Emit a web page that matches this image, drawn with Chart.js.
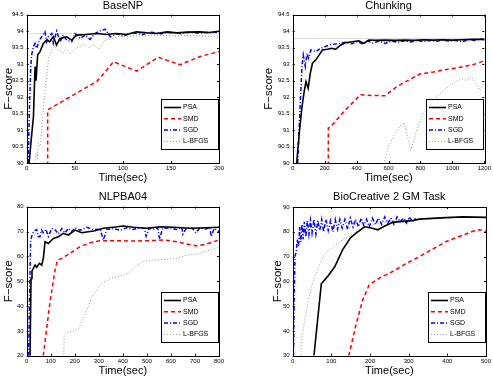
<!DOCTYPE html>
<html>
<head>
<meta charset="utf-8">
<script src="https://cdn.jsdelivr.net/npm/chart.js@4.4.1/dist/chart.umd.min.js"></script>
<style>
  body { margin: 0; background: #fff; }
  .panel { position: absolute; }
  canvas { display: block; }
</style>
</head>
<body>
<div class="panel" style="left:0;top:0"><canvas id="c1" width="246" height="190"></canvas></div>
<div class="panel" style="left:246px;top:0"><canvas id="c2" width="247" height="190"></canvas></div>
<div class="panel" style="left:0;top:190px"><canvas id="c3" width="246" height="190"></canvas></div>
<div class="panel" style="left:246px;top:190px"><canvas id="c4" width="247" height="190"></canvas></div>
<script>
const methods = ['PSA', 'SMD', 'SGD', 'L-BFGS'];

// BaseNP
const baseXTicks = [0, 50, 100, 150, 200];
const baseYTicks = [90, 90.5, 91, 91.5, 92, 92.5, 93, 93.5, 94, 94.5];
const basePsaT = [2.5, 5, 7, 8.7, 9.7, 11.4, 13.9, 17.3, 20.8, 24, 27.7, 31, 34.7, 41.6, 46.8, 52, 62, 73, 83, 93, 104, 114, 125, 135, 146, 156, 167, 180, 190, 200];
const basePsa = [90, 90.8, 91.4, 92.93, 92.5, 93.28, 93.38, 93.63, 93.73, 93.68, 93.83, 93.58, 93.78, 93.83, 93.73, 93.88, 93.9, 93.93, 93.9, 93.93, 93.9, 93.98, 93.95, 93.93, 93.98, 93.95, 93.97, 93.98, 93.96, 94.0];
const baseSmdT = [21.8, 21.8, 41.6, 58.9, 72.8, 83.2, 90.1, 114.4, 136.9, 159.4, 180.2, 200];
const baseSmd = [89.5, 91.61, 91.95, 92.24, 92.47, 92.82, 93.07, 92.79, 93.21, 92.98, 93.23, 93.38];
const baseSgdT = [1.5, 3, 4.2, 5.2, 6.9, 8.7, 10.4, 13.2, 15.6, 19, 20.8, 22.5, 26, 27.7, 31.2, 34.7, 38, 41.6, 46.8, 50.3, 55.5, 60.7, 65.9, 71, 76, 81.5, 87, 94, 100, 110, 120, 130, 140, 150, 160, 170, 180, 190, 200];
const baseSgd = [90, 91.8, 92.9, 93.28, 93.53, 93.63, 93.48, 93.73, 93.83, 93.98, 93.68, 93.83, 93.93, 93.63, 94.0, 93.68, 93.88, 93.73, 93.68, 93.93, 93.78, 93.88, 93.75, 93.93, 94.0, 94.06, 93.83, 93.92, 93.85, 93.95, 93.9, 93.97, 93.92, 93.96, 93.93, 93.97, 93.94, 93.96, 93.97];
const baseLbfgsT = [8, 10, 11, 12, 14, 17, 19, 21, 23, 26, 29, 32, 35, 38, 41, 45, 50, 55, 60, 65, 70, 75, 80, 85, 95, 110, 130, 150, 170, 185, 200];
const baseLbfgs = [89.9, 90.3, 90.1, 90.6, 90.5, 91.5, 92.2, 92.7, 93.2, 93.4, 93.55, 93.45, 93.4, 93.35, 93.5, 93.3, 93.45, 93.55, 93.6, 93.5, 93.6, 93.45, 93.7, 93.75, 93.83, 93.85, 93.88, 93.86, 93.87, 93.85, 93.82];
const baseRef = 93.93;

// Chunking
const chunkXTicks = [0, 200, 400, 600, 800, 1000, 1200];
const chunkYTicks = [90, 90.5, 91, 91.5, 92, 92.5, 93, 93.5, 94, 94.5];
const chunkPsaT = [25, 41, 58, 72, 83, 97, 110, 124, 145, 166, 186, 217, 245, 269, 300, 331, 372, 414, 445, 476, 520, 580, 640, 700, 760, 820, 880, 940, 1000, 1060, 1120, 1200];
const chunkPsa = [90, 90.9, 91.7, 92.17, 92.47, 92.27, 92.72, 93.03, 93.13, 93.28, 93.43, 93.45, 93.48, 93.45, 93.58, 93.65, 93.68, 93.71, 93.63, 93.73, 93.72, 93.73, 93.72, 93.73, 93.72, 93.74, 93.73, 93.74, 93.73, 93.74, 93.75, 93.75];
const chunkSmdT = [223, 223, 238, 331, 424, 500, 579, 652, 720, 797, 880, 952, 1020, 1076, 1140, 1200];
const chunkSmd = [89.5, 91.06, 91.1, 91.61, 92.07, 92.05, 92.04, 92.32, 92.5, 92.7, 92.76, 92.83, 92.88, 92.93, 93.0, 93.1];
const chunkSgdT = [31, 40, 48, 58, 66, 79, 89, 99, 114, 145, 176, 228, 290, 330, 370, 410, 440, 470, 500, 540, 580, 620, 660, 700, 740, 780, 820, 860, 900, 940, 980, 1020, 1060, 1100, 1140, 1180, 1200];
const chunkSgd = [90, 91.0, 91.9, 92.93, 93.28, 92.93, 93.33, 93.18, 93.43, 93.38, 93.48, 93.58, 93.63, 93.66, 93.62, 93.68, 93.6, 93.7, 93.64, 93.69, 93.63, 93.7, 93.66, 93.71, 93.67, 93.72, 93.68, 93.72, 93.69, 93.73, 93.7, 93.72, 93.68, 93.74, 93.72, 93.76, 93.74];
const chunkLbfgsT = [560, 600, 635, 670, 697, 739, 780, 821, 870, 920, 987, 1049, 1090, 1121, 1150, 1173, 1200];
const chunkLbfgs = [89.8, 90.5, 90.84, 91.1, 91.24, 90.39, 91.04, 91.55, 91.8, 92.1, 92.36, 92.56, 92.5, 92.61, 92.4, 92.2, 92.45];
const chunkRef = 93.78;

// NLPBA04
const nlpXTicks = [0, 100, 200, 300, 400, 500, 600, 700, 800];
const nlpYTicks = [20, 30, 40, 50, 60, 70, 80];
const nlpPsaT = [14, 18, 22, 27.7, 34.7, 41.6, 52.7, 62.4, 69.3, 76.3, 90, 97, 111, 132, 152.5, 173, 201, 229, 256, 284, 319, 360, 402, 444, 499, 555, 610, 679, 749, 800];
const nlpPsa = [20, 51.1, 54, 55.2, 56.5, 55.6, 57.2, 56.5, 59.2, 65.9, 65.2, 65.9, 67.2, 67.9, 69.3, 68.6, 70.6, 69.5, 69.9, 70.3, 71.3, 71.7, 72.2, 71.7, 71.3, 71.9, 71.7, 71.3, 71.5, 71.7];
const nlpSmdT = [69, 97, 118, 128, 146, 180, 222, 263, 305, 374, 444, 513, 568, 624, 666, 707, 749, 800];
const nlpSmd = [20, 41.7, 54.5, 58.5, 59.2, 61.2, 63.9, 65.5, 66.3, 66.3, 66.2, 66.3, 66.6, 65.9, 65, 64.2, 65, 66.6];
const nlpSgdT = [8, 12, 16.6, 22, 27.7, 35, 41.6, 48, 55, 62, 69, 80, 90, 104, 118, 132, 146, 160, 173, 187, 201, 222, 250, 277, 305, 319, 333, 360, 388, 416, 444, 472, 490, 497, 510, 530, 545, 553, 565, 596, 624, 645, 650, 665, 690, 704, 720, 745, 762, 768, 780, 800];
const nlpSgd = [20, 45, 66.6, 68.5, 69.9, 70.5, 70.8, 68, 67.9, 70.6, 69.5, 70.9, 68, 71.2, 70.7, 69.1, 71.2, 69.5, 71.3, 70, 71.5, 70.5, 71.7, 70.8, 71, 66.6, 70.8, 71.2, 70.5, 71.5, 70.8, 71.6, 71.2, 68.1, 71.3, 71, 71.5, 66.8, 71.3, 71.5, 70.8, 71.6, 69, 71.5, 71.2, 69.5, 71.4, 71, 71.5, 68, 71.2, 70];
const nlpLbfgsT = [154, 156, 165, 181, 200, 216, 244, 272, 313, 354, 402, 430, 458, 485, 527, 582, 624, 666, 721, 763, 800];
const nlpLbfgs = [18, 28.5, 29.3, 29.8, 30, 31, 36.8, 43.9, 49.3, 51.3, 52.5, 53.8, 56.5, 57.9, 58.5, 58.8, 59.2, 60.5, 61.2, 62.6, 63.6];

// BioCreative 2 GM Task
const bioXTicks = [0, 100, 200, 300, 400, 500];
const bioYTicks = [30, 40, 50, 60, 70, 80, 90];
const bioPsaT = [55, 74, 90.5, 109, 129, 149, 164, 186, 203, 220, 237, 259, 284, 310, 328, 362, 397, 440, 470, 500];
const bioPsa = [30, 59, 62, 66, 72.7, 77.5, 79.5, 82, 81.5, 80.8, 82.2, 83.8, 84.2, 84.5, 85.1, 85.4, 85.7, 86, 85.9, 85.8];
const bioSmdT = [145, 163, 181, 198, 224, 259, 293, 328, 362, 397, 431, 466, 483, 500];
const bioSmd = [30, 42, 52.5, 58.6, 61.3, 64, 67.1, 70, 73, 76.1, 78.1, 80.2, 80.8, 80.2];
const bioSgdT = [2, 4, 6, 9, 12, 15, 18, 21, 24, 27, 30, 34, 38, 42, 46, 50, 55, 60, 65, 70, 75, 80, 86, 92, 98, 104, 110, 116, 122, 128, 135, 142, 149, 156, 163, 170, 177, 184, 191, 198, 206, 214, 222, 230, 238, 246, 254, 262, 270, 278, 286, 294, 302, 310, 318];
const bioSgd = [30, 55, 70, 72, 77, 74, 82, 76, 83, 77, 84, 78, 84.5, 79, 84.5, 79.5, 85, 79, 84.5, 80.5, 85, 80, 85, 80.5, 84.5, 80, 85, 81, 85, 81.5, 85, 81, 85.5, 82, 85, 82, 85.5, 82.5, 85, 82, 85.5, 83, 85.5, 83, 86, 83.5, 85.5, 83, 86, 84, 85.5, 83.5, 86, 84, 85.5];
const bioLbfgsT = [21.6, 22, 30, 39, 47, 56, 65, 73, 86, 99, 112, 129, 147, 164, 190, 224, 267, 310, 362, 414, 500];
const bioLbfgs = [29, 35.7, 43, 51.2, 56.6, 62, 64.7, 68, 72, 73, 74.8, 76.8, 78.1, 80.2, 82.2, 83.5, 84.6, 85.1, 85.6, 85.7, 85.7];

Chart.defaults.font.family = "'Liberation Sans', Arial, sans-serif";
Chart.defaults.color = '#000';

const lineStyles = [
  { borderColor: '#000000', borderWidth: 1.6, borderDash: [] },
  { borderColor: '#ff0000', borderWidth: 1.5, borderDash: [4, 3] },
  { borderColor: '#0000ff', borderWidth: 1.5, borderDash: [4, 2, 1, 2] },
  { borderColor: '#999999', borderWidth: 1, borderDash: [1, 2] }
];

function pts(xs, ys) {
  return xs.map((x, i) => ({ x: x, y: ys[i] }));
}

// box, inward ticks and legend, MATLAB style
const boxPlugin = {
  id: 'box',
  afterDatasetsDraw(chart) {
    const { ctx, chartArea: { left, right, top, bottom }, scales: { x, y } } = chart;
    ctx.save();
    ctx.strokeStyle = '#000';
    ctx.lineWidth = 1;
    ctx.beginPath();
    x.ticks.forEach(t => {
      const px = Math.round(x.getPixelForValue(t.value)) + 0.5;
      ctx.moveTo(px, bottom); ctx.lineTo(px, bottom - 2);
      ctx.moveTo(px, top); ctx.lineTo(px, top + 2);
    });
    y.ticks.forEach(t => {
      const py = Math.round(y.getPixelForValue(t.value)) + 0.5;
      ctx.moveTo(left, py); ctx.lineTo(left + 2, py);
      ctx.moveTo(right, py); ctx.lineTo(right - 2, py);
    });
    ctx.stroke();
    ctx.strokeRect(Math.round(left) + 0.5, Math.round(top) + 0.5, Math.round(right - left), Math.round(bottom - top));

    // legend
    const bw = 57, bh = 50;
    const bx = Math.round(right - 58), by = Math.round(bottom - 64);
    ctx.fillStyle = '#fff';
    ctx.fillRect(bx, by, bw, bh);
    ctx.strokeRect(bx + 0.5, by + 0.5, bw, bh);
    ctx.font = "7px 'Liberation Sans', Arial, sans-serif";
    ctx.textBaseline = 'middle';
    ctx.textAlign = 'left';
    methods.forEach((m, i) => {
      const ds = chart.data.datasets[i];
      const ry = by + 8.5 + i * 11.3;
      ctx.beginPath();
      ctx.strokeStyle = ds.borderColor;
      ctx.lineWidth = ds.borderWidth;
      ctx.setLineDash(ds.borderDash);
      ctx.moveTo(bx + 3, ry); ctx.lineTo(bx + 20, ry);
      ctx.stroke();
      ctx.setLineDash([]);
      ctx.fillStyle = '#000';
      ctx.fillText(m, bx + 22, ry);
    });
    ctx.restore();
  }
};

function makePanel(id, o) {
  const datasets = o.series.map((s, i) => Object.assign({
    label: methods[i],
    data: pts(s[0], s[1]),
    pointRadius: 0,
    fill: false,
    tension: 0,
    clip: { left: 0, top: 1, right: 1, bottom: 0 }
  }, lineStyles[i]));
  if (o.ref !== undefined) {
    datasets.push({
      label: 'ref',
      data: [{ x: o.xMin, y: o.ref }, { x: o.xMax, y: o.ref }],
      borderColor: '#dddddd',
      borderWidth: 1,
      pointRadius: 0,
      fill: false
    });
  }
  new Chart(document.getElementById(id), {
    type: 'line',
    data: { datasets: datasets },
    options: {
      responsive: false,
      animation: false,
      events: [],
      layout: { padding: { left: 0, right: o.padRight, top: 0, bottom: 0 } },
      plugins: {
        legend: { display: false },
        tooltip: { enabled: false },
        title: {
          display: true,
          text: o.title,
          fullSize: false,
          font: { size: 11, weight: 'normal', lineHeight: 1 },
          padding: { top: o.titleTop, bottom: o.titleBottom }
        }
      },
      scales: {
        x: {
          type: 'linear',
          min: o.xMin,
          max: o.xMax,
          grid: { display: false, drawTicks: false },
          border: { display: false },
          afterBuildTicks: s => { s.ticks = o.xTicks.map(v => ({ value: v })); },
          afterFit: s => { s.height = o.xHeight; },
          ticks: { font: { size: 6 }, padding: 2, autoSkip: false, maxRotation: 0, minRotation: 0, callback: v => String(v) },
          title: { display: true, text: 'Time(sec)', font: { size: 11 }, padding: { top: 0, bottom: o.xTitlePad } }
        },
        y: {
          type: 'linear',
          min: o.yMin,
          max: o.yMax,
          grid: { display: false, drawTicks: false },
          border: { display: false },
          afterBuildTicks: s => { s.ticks = o.yTicks.map(v => ({ value: v })); },
          afterFit: s => { s.width = o.yWidth; },
          ticks: { font: { size: 6 }, padding: 3, autoSkip: false, callback: v => String(v) },
          title: { display: true, text: 'F\u2212score', font: { size: 11.5 }, padding: { top: o.yTitlePad, bottom: 0 } }
        }
      }
    },
    plugins: [boxPlugin]
  });
}

makePanel('c1', {
  title: 'BaseNP', xMin: 0, xMax: 200, yMin: 90, yMax: 94.5,
  xTicks: baseXTicks, yTicks: baseYTicks, ref: baseRef,
  series: [[basePsaT, basePsa], [baseSmdT, baseSmd], [baseSgdT, baseSgd], [baseLbfgsT, baseLbfgs]],
  padRight: 27, yWidth: 26.7, xHeight: 27, titleTop: 0, titleBottom: 3.7, yTitlePad: 2.3, xTitlePad: 5.7
});
makePanel('c2', {
  title: 'Chunking', xMin: 0, xMax: 1200, yMin: 90, yMax: 94.5,
  xTicks: chunkXTicks, yTicks: chunkYTicks, ref: chunkRef,
  series: [[chunkPsaT, chunkPsa], [chunkSmdT, chunkSmd], [chunkSgdT, chunkSgd], [chunkLbfgsT, chunkLbfgs]],
  padRight: 7, yWidth: 46.7, xHeight: 27, titleTop: 0, titleBottom: 3.7, yTitlePad: 16.4, xTitlePad: 5.7
});
makePanel('c3', {
  title: 'NLPBA04', xMin: 0, xMax: 800, yMin: 20, yMax: 80,
  xTicks: nlpXTicks, yTicks: nlpYTicks,
  series: [[nlpPsaT, nlpPsa], [nlpSmdT, nlpSmd], [nlpSgdT, nlpSgd], [nlpLbfgsT, nlpLbfgs]],
  padRight: 27, yWidth: 26.7, xHeight: 24.3, titleTop: 1.5, titleBottom: 4.2, yTitlePad: 2.3, xTitlePad: 2.4
});
makePanel('c4', {
  title: 'BioCreative 2 GM Task', xMin: 0, xMax: 500, yMin: 30, yMax: 90,
  xTicks: bioXTicks, yTicks: bioYTicks,
  series: [[bioPsaT, bioPsa], [bioSmdT, bioSmd], [bioSgdT, bioSgd], [bioLbfgsT, bioLbfgs]],
  padRight: 7, yWidth: 46.7, xHeight: 24.3, titleTop: 1.8, titleBottom: 4.2, yTitlePad: 24.5, xTitlePad: 2.4
});
</script>
</body>
</html>
